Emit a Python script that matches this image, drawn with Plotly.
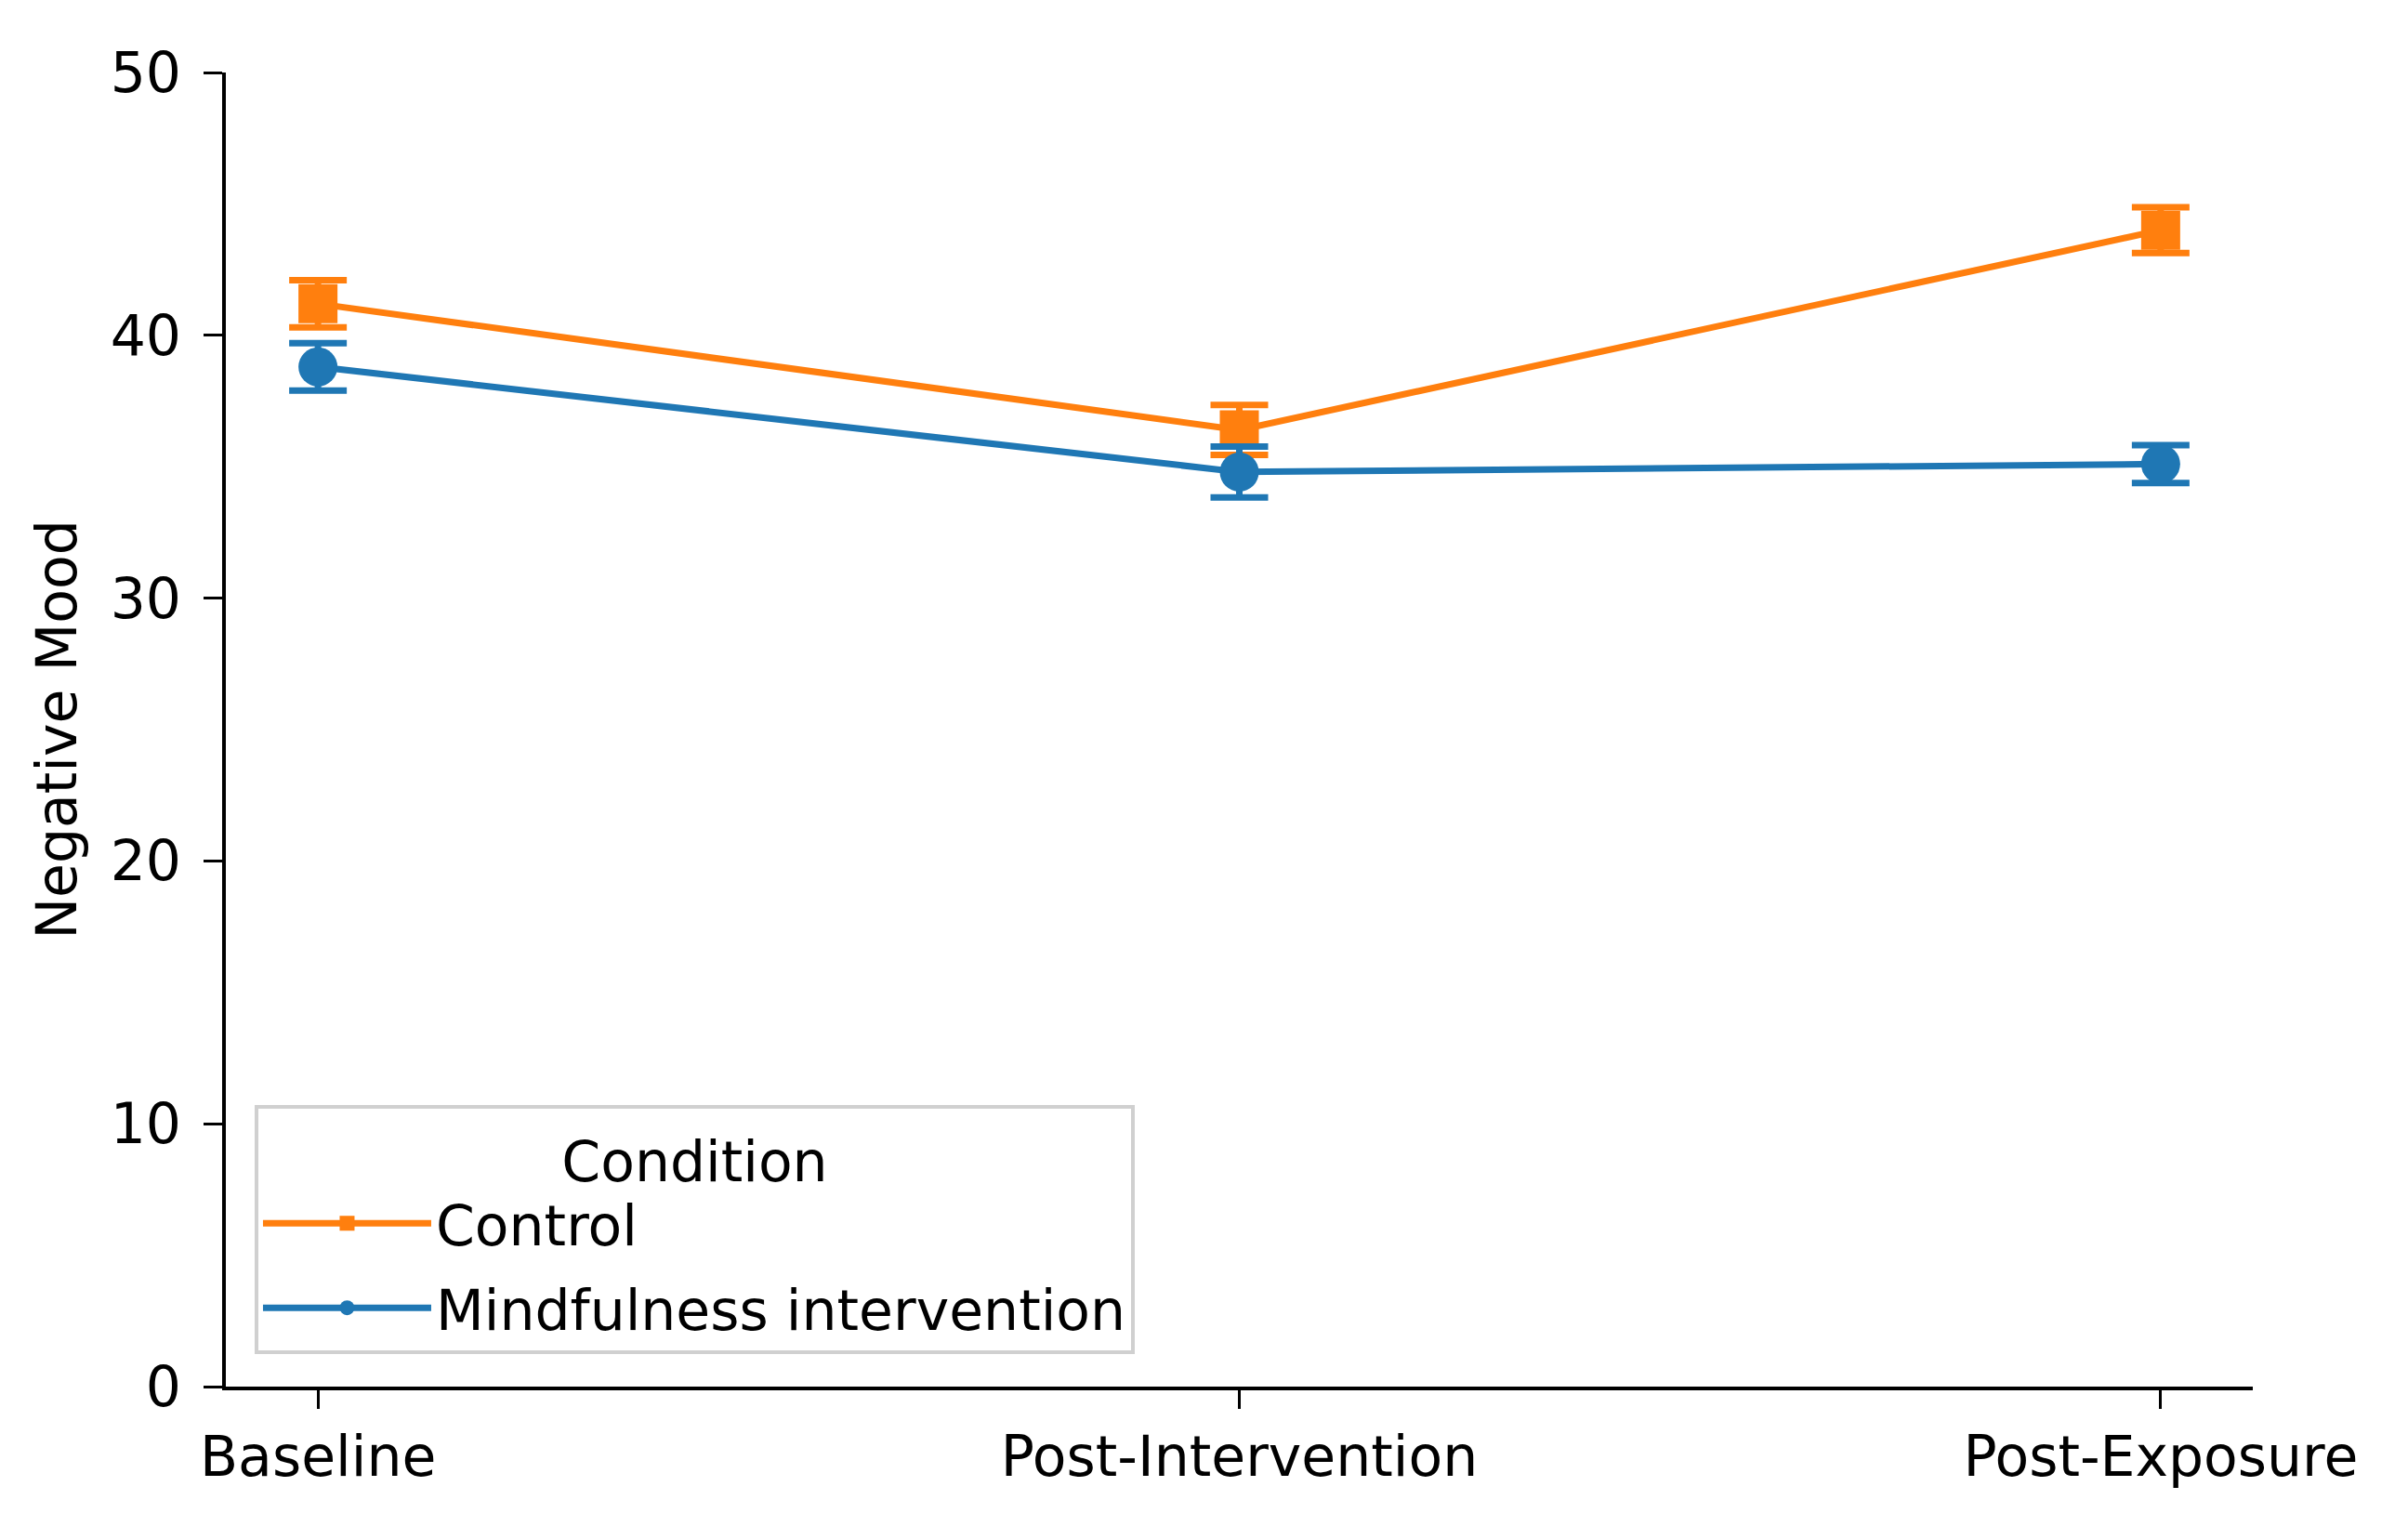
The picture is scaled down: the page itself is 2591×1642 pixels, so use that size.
import plotly.graph_objects as go

timepoints = ["Baseline", "Post-Intervention", "Post-Exposure"]
control_mean = [41.2, 36.4, 44.0]
control_err = [0.9, 0.95, 0.87]
mindful_mean = [38.8, 34.8, 35.1]
mindful_err = [0.9, 0.97, 0.72]
y_ticks = [0, 10, 20, 30, 40, 50]

ORANGE = "#ff7f0e"
BLUE = "#1f77b4"
FONT = "DejaVu Sans"
FS = 60

W, H = 2591, 1642
L, R, T, B = 235, W - 2416, 70, H - 1484

x_idx = list(range(len(timepoints)))

fig = go.Figure()
fig.add_trace(go.Scatter(
    x=x_idx, y=control_mean, name="Control", mode="lines+markers",
    line=dict(color=ORANGE, width=7),
    marker=dict(symbol="square", size=42, color=ORANGE),
    error_y=dict(type="data", array=control_err, visible=True,
                 color=ORANGE, thickness=7, width=31),
    legendrank=1, legendgroup="c",
))
fig.add_trace(go.Scatter(
    x=x_idx, y=mindful_mean, name="Mindfulness intervention", mode="lines+markers",
    line=dict(color=BLUE, width=7),
    marker=dict(symbol="circle", size=42, color=BLUE),
    error_y=dict(type="data", array=mindful_err, visible=True,
                 color=BLUE, thickness=7, width=31),
    legendrank=2, legendgroup="m",
))

fig.update_layout(
    width=W, height=H,
    margin=dict(l=L, r=R, t=T, b=B, autoexpand=False),
    paper_bgcolor="white", plot_bgcolor="white",
    font=dict(family=FONT, size=FS, color="black"),
    showlegend=True,
    legend=dict(
        title=dict(text="Condition", side="top center", font=dict(size=FS)),
        x=0.0142, y=0.025, xanchor="left", yanchor="bottom",
        bgcolor="white", bordercolor="#d0d0d0", borderwidth=4,
        font=dict(size=FS), itemwidth=181, tracegroupgap=10,
        itemsizing="trace",
    ),
    xaxis=dict(
        range=[-0.1, 2.1], tickmode="array", tickvals=x_idx, ticktext=timepoints,
        showgrid=False, zeroline=False, showline=True, linecolor="black", linewidth=4,
        ticks="outside", ticklen=20, tickwidth=3, tickcolor="black",
        tickfont=dict(size=FS, family=FONT), automargin=False,
    ),
    yaxis=dict(
        range=[0, 50], tickmode="array", tickvals=y_ticks,
        showgrid=False, zeroline=False, showline=True, linecolor="black", linewidth=4,
        ticks="outside", ticklen=20, tickwidth=3, tickcolor="black",
        tickfont=dict(size=FS, family=FONT), automargin=False, ticklabelstandoff=12,
        title=dict(text="Negative Mood", font=dict(size=FS, family=FONT), standoff=18),
    ),
)

fig.write_html("out.html")
